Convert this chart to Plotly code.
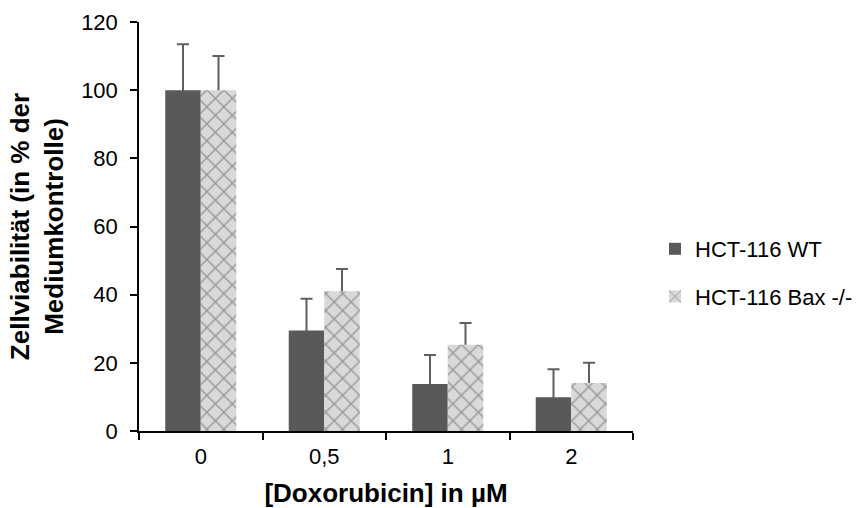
import plotly.graph_objects as go

categories = ["0", "0,5", "1", "2"]
wt_values = [100, 29.5, 13.8, 9.9]
wt_errors = [13.5, 9.3, 8.5, 8.2]
bax_values = [100, 41.0, 25.3, 14.1]
bax_errors = [10.0, 6.5, 6.4, 5.9]
series_names = ["HCT-116 WT", "HCT-116 Bax -/-"]
y_ticks = [0, 20, 40, 60, 80, 100, 120]

FONT = "Liberation Sans, Arial, sans-serif"
W, H = 867, 508
L, R, T, B = 139, 234, 22, 77
ERR_COLOR = "#5f5f5f"

fig = go.Figure()
# error-bar carriers on the base axis (drawn beneath the visible bars)
for vals, errs in [(wt_values, wt_errors), (bax_values, bax_errors)]:
    fig.add_trace(go.Bar(
        x=categories, y=vals, showlegend=False, hoverinfo="skip",
        marker=dict(color="rgba(0,0,0,0)", line=dict(width=0)),
        error_y=dict(type="data", array=errs, symmetric=True,
                     color=ERR_COLOR, thickness=2, width=6),
        yaxis="y",
    ))
# visible bars on overlaying axis
fig.add_trace(go.Bar(
    x=categories, y=wt_values, name=series_names[0], legendgroup="a",
    marker=dict(color="#595959", line=dict(width=0)), yaxis="y2",
))
fig.add_trace(go.Bar(
    x=categories, y=bax_values, name=series_names[1], legendgroup="b",
    marker=dict(color="#d9d9d9", line=dict(width=0),
                pattern=dict(shape="x", fgcolor="#4f4f4f", bgcolor="#d9d9d9",
                             size=12, solidity=0.2)),
    yaxis="y2",
))

fig.update_layout(
    width=W, height=H,
    margin=dict(l=L, r=R, t=T, b=B, autoexpand=False),
    paper_bgcolor="white", plot_bgcolor="white",
    font=dict(family=FONT, size=22, color="black"),
    barmode="group", bargap=0.425, bargroupgap=0,
    showlegend=True,
    legend=dict(x=(655 - L) / (W - L - R), xanchor="left",
                y=(H - B - 228) / (H - T - B), yanchor="top",
                bgcolor="rgba(0,0,0,0)", borderwidth=0,
                font=dict(family=FONT, size=22, color="black"),
                tracegroupgap=16),
    xaxis=dict(
        type="category", showline=True, linecolor="black", linewidth=1.5,
        ticks="outside", tickson="boundaries", ticklen=7, tickwidth=1.5, tickcolor="black",
        showgrid=False, zeroline=False, automargin=False, ticklabelstandoff=5,
        tickfont=dict(family=FONT, size=22, color="black"),
        title=dict(text="<b>[Doxorubicin] in µM</b>", standoff=16,
                   font=dict(family=FONT, size=26, color="black")),
    ),
    yaxis=dict(
        range=[0, 120], tickvals=y_ticks, showline=True, linecolor="black", linewidth=1.5,
        ticks="outside", ticklen=7, tickwidth=1.5, tickcolor="black",
        showgrid=False, zeroline=False, automargin=False, ticklabelstandoff=8,
        tickfont=dict(family=FONT, size=22, color="black"),
        title=dict(text="<b>Zellviabilität (in % der<br>Mediumkontrolle)</b>", standoff=10,
                   font=dict(family=FONT, size=26, color="black")),
    ),
    yaxis2=dict(range=[0, 120], overlaying="y", visible=False, showgrid=False,
                zeroline=False),
)

fig.write_html("out.html")
